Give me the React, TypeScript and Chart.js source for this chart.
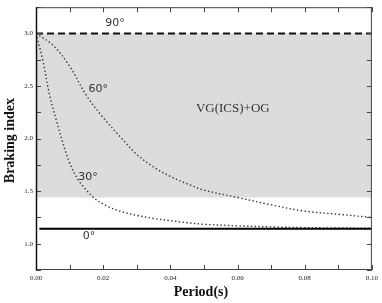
import React, { useEffect, useRef } from "react";
import { Chart, registerables } from "chart.js";

Chart.register(...registerables);

const xTickValues = [0, 0.02, 0.04, 0.06, 0.08, 0.1];
const yTickValues = [1.0, 1.5, 2.0, 2.5, 3.0];

const t30 = [0, 0.002, 0.004, 0.006, 0.008, 0.01, 0.0125, 0.015, 0.0175, 0.021, 0.025, 0.03, 0.035, 0.04, 0.045, 0.05, 0.06, 0.07, 0.08, 0.09, 0.1];
const v30 = [3.0, 2.75, 2.42, 2.18, 1.96, 1.77, 1.61, 1.51, 1.43, 1.36, 1.31, 1.27, 1.24, 1.22, 1.2, 1.185, 1.17, 1.16, 1.153, 1.15, 1.148];

const t60 = [0, 0.005, 0.01, 0.015, 0.02, 0.025, 0.03, 0.035, 0.04, 0.045, 0.05, 0.06, 0.07, 0.08, 0.09, 0.1];
const v60 = [3.0, 2.89, 2.69, 2.41, 2.2, 2.02, 1.85, 1.73, 1.64, 1.57, 1.51, 1.44, 1.37, 1.31, 1.28, 1.25];

const t90 = [0, 0.1];
const v90 = [3.0, 3.0];

const t0 = [0.001, 0.1];
const v0 = [1.143, 1.143];

const shadeLow = 1.44;

const labels = [
  { text: "90°", x: 0.0235, y: 3.1, font: "11px 'DejaVu Sans'" },
  { text: "60°", x: 0.0185, y: 2.47, font: "11px 'DejaVu Sans'" },
  { text: "30°", x: 0.0155, y: 1.63, font: "11px 'DejaVu Sans'" },
  { text: "0°", x: 0.0158, y: 1.07, font: "11px 'DejaVu Sans'" },
  { text: "VG(ICS)+OG", x: 0.0586, y: 2.29, font: "13px 'Liberation Serif'" },
];

const toPts = (t: number[], v: number[]) => t.map((x, i) => ({ x, y: v[i] }));

export default function App() {
  const ref = useRef<HTMLCanvasElement | null>(null);
  useEffect(() => {
    if (!ref.current) return;
    const framePlugin = {
      id: "frame",
      afterDraw(chart: any) {
        const { ctx, chartArea: a, scales } = chart;
        const xs = scales.x;
        const ys = scales.y;
        ctx.save();
        ctx.strokeStyle = "#444";
        ctx.lineWidth = 1;
        ctx.strokeRect(a.left + 0.5, a.top + 0.5, a.right - a.left - 1, a.bottom - a.top - 1);
        ctx.beginPath();
        const tl = 5;
        for (let i = 0; i <= 10; i++) {
          const px = Math.round(xs.getPixelForValue(i * 0.01)) + 0.5;
          ctx.moveTo(px, a.bottom);
          ctx.lineTo(px, a.bottom - tl);
          ctx.moveTo(px, a.top);
          ctx.lineTo(px, a.top + tl);
        }
        for (let i = 0; i <= 10; i++) {
          const py = Math.round(ys.getPixelForValue(0.75 + i * 0.25)) + 0.5;
          ctx.moveTo(a.left, py);
          ctx.lineTo(a.left + tl, py);
          ctx.moveTo(a.right, py);
          ctx.lineTo(a.right - tl, py);
        }
        ctx.stroke();
        ctx.strokeStyle = "#111";
        ctx.lineWidth = 1.5;
        ctx.beginPath();
        ctx.moveTo(a.left + 0.5, a.top);
        ctx.lineTo(a.left + 0.5, a.bottom);
        ctx.stroke();

        ctx.fillStyle = "#333";
        ctx.textAlign = "center";
        ctx.textBaseline = "middle";
        for (const l of labels) {
          ctx.font = l.font;
          ctx.fillText(l.text, xs.getPixelForValue(l.x), ys.getPixelForValue(l.y));
        }
        ctx.fillStyle = "#111";
        ctx.font = "bold 14px 'Liberation Serif'";
        ctx.fillText("Period(s)", (a.left + a.right) / 2 - 3, 292);
        ctx.save();
        ctx.translate(10, (a.top + a.bottom) / 2 + 2);
        ctx.rotate(-Math.PI / 2);
        ctx.fillText("Braking index", 0, 0);
        ctx.restore();
        ctx.restore();
      },
    };
    const dotted = {
      borderColor: "#333",
      borderWidth: 1.4,
      borderDash: [1.4, 2.4],
      pointRadius: 0,
      fill: false,
      tension: 0.35,
      order: 1,
    };
    const chart = new Chart(ref.current, {
      type: "line",
      data: {
        datasets: [
          {
            label: "90",
            data: toPts(t90, v90),
            borderColor: "#111",
            borderWidth: 2,
            borderDash: [7, 4],
            pointRadius: 0,
            backgroundColor: "#dcdcdc",
            fill: { value: shadeLow },
            order: 5,
          } as any,
          { label: "60", data: toPts(t60, v60), ...dotted } as any,
          { label: "30", data: toPts(t30, v30), ...dotted } as any,
          {
            label: "0",
            data: toPts(t0, v0),
            borderColor: "#000",
            borderWidth: 2,
            pointRadius: 0,
            fill: false,
            order: 0,
          } as any,
        ],
      },
      options: {
        animation: false,
        responsive: false,
        events: [],
        layout: { padding: { top: 7, right: 10, left: 0, bottom: 0 } },
        plugins: { legend: { display: false }, tooltip: { enabled: false } },
        scales: {
          x: {
            type: "linear",
            min: 0,
            max: 0.1,
            afterFit: (s: any) => {
              s.height = 33;
            },
            afterBuildTicks: (s: any) => {
              s.ticks = xTickValues.map((v) => ({ value: v }));
            },
            grid: { display: false, drawTicks: false },
            border: { display: false },
            ticks: {
              padding: 4,
              color: "#222",
              font: { family: "'Liberation Serif'", size: 7 },
              callback: (v: any) => Number(v).toFixed(2),
            },
          },
          y: {
            type: "linear",
            min: 0.75,
            max: 3.25,
            afterFit: (s: any) => {
              s.width = 36;
            },
            afterBuildTicks: (s: any) => {
              s.ticks = yTickValues.map((v) => ({ value: v }));
            },
            grid: { display: false, drawTicks: false },
            border: { display: false },
            ticks: {
              padding: 3,
              color: "#222",
              font: { family: "'Liberation Serif'", size: 7 },
              callback: (v: any) => Number(v).toFixed(1),
            },
          },
        },
      },
      plugins: [framePlugin],
    });
    return () => chart.destroy();
  }, []);
  return (
    <div style={{ position: "fixed", left: 0, top: 0, width: 382, height: 303, background: "#fff" }}>
      <canvas ref={ref} width={382} height={303} style={{ width: 382, height: 303, display: "block" }} />
    </div>
  );
}
